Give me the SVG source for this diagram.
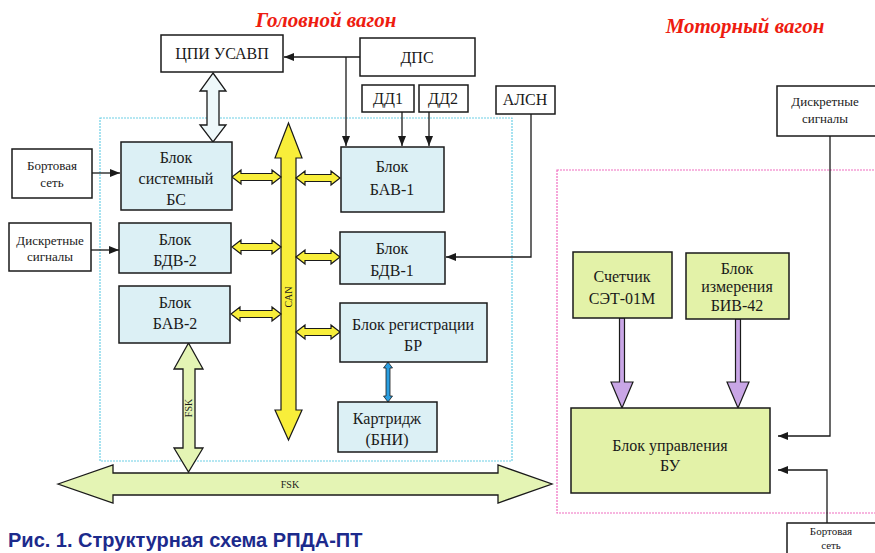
<svg xmlns="http://www.w3.org/2000/svg" width="875" height="553" viewBox="0 0 875 553">
<style>
text{font-family:"Liberation Serif","DejaVu Serif","Times New Roman",serif;fill:#1a1a1a;text-anchor:middle}
.t{font-size:16px}
.s{font-size:13px}
.xs{font-size:11px}
.title{font-size:21px;font-weight:bold;font-style:italic;fill:#ee1c10}
.cap{font-family:"Liberation Sans","DejaVu Sans",Arial,sans-serif;font-size:20px;font-weight:bold;fill:#1c2a8c;text-anchor:start}
.box{fill:#ffffff;stroke:#1a1a1a;stroke-width:1.5}
.blue{fill:#dcf0f5;stroke:#1a1a1a;stroke-width:1.5}
.green{fill:#e3f2a8;stroke:#1a1a1a;stroke-width:1.5}
.yel{fill:#f8ee3a;stroke:#1a1a1a;stroke-width:1.2}
.fsk{fill:#e4f4b4;stroke:#1a1a1a;stroke-width:1.3}
.lbl{font-size:10px}
.conn{fill:none;stroke:#1a1a1a;stroke-width:1.3;marker-end:url(#ah)}
</style>
<defs>
<marker id="ah" markerWidth="10" markerHeight="8" refX="10" refY="4" orient="auto" markerUnits="userSpaceOnUse">
<path d="M0,0 L10,4 L0,8 Z" fill="#1a1a1a"/>
</marker>
</defs>
<rect width="875" height="553" fill="#ffffff"/>

<g id="frames">
<rect x="100" y="118" width="412" height="343" fill="none" stroke="#6ccfe6" stroke-width="1.2" stroke-dasharray="2,1"/>
<rect x="557" y="170" width="330" height="343" fill="none" stroke="#f06cc0" stroke-width="1.2" stroke-dasharray="2,1"/>
</g>

<text class="title" x="326" y="27">Головной вагон</text>
<text class="title" x="745" y="33">Моторный вагон</text>

<g id="connectors">
<path class="conn" d="M360,57 L284,57"/>
<path class="conn" d="M346,57 L346,146"/>
<path class="conn" d="M402,112 L402,146"/>
<path class="conn" d="M429,112 L429,146"/>
<path class="conn" d="M531,114 L531,257 L446,257"/>
<path class="conn" d="M92,173 L120,173"/>
<path class="conn" d="M91,250 L119,250"/>
<path class="conn" d="M830,136 L830,436 L778,436"/>
<path class="conn" d="M827,523 L827,470 L778,470"/>
<path d="M213,73 L226,91 L219,91 L219,125 L226,125 L213,142 L200,125 L207,125 L207,91 L200,91 Z" fill="#eef8fa" stroke="#1a1a1a" stroke-width="1.3"/>
<path class="yel" d="M288.5,123 L302,158 L296,158 L296,410 L302,410 L288.5,440 L275,410 L281,410 L281,158 L275,158 Z"/>
<text class="lbl" transform="translate(292,297) rotate(-90)">CAN</text>
<path class="yel" d="M232,177 L241,170 L241,173.5 L272,173.5 L272,170 L281,177 L272,184 L272,180.5 L241,180.5 L241,184 Z"/>
<path class="yel" d="M296,178 L305,171 L305,174.5 L331,174.5 L331,171 L340,178 L331,185 L331,181.5 L305,181.5 L305,185 Z"/>
<path class="yel" d="M232,247 L241,240 L241,243.5 L272,243.5 L272,240 L281,247 L272,254 L272,250.5 L241,250.5 L241,254 Z"/>
<path class="yel" d="M296,257 L305,250 L305,253.5 L331,253.5 L331,250 L340,257 L331,264 L331,260.5 L305,260.5 L305,264 Z"/>
<path class="yel" d="M231,314 L240,307 L240,310.5 L272,310.5 L272,307 L281,314 L272,321 L272,317.5 L240,317.5 L240,321 Z"/>
<path class="yel" d="M296,332 L305,325 L305,328.5 L331,328.5 L331,325 L340,332 L331,339 L331,335.5 L305,335.5 L305,339 Z"/>
<path d="M388,362 L392.5,368 L390,368 L390,396 L392.5,396 L388,402 L383.5,396 L386,396 L386,368 L383.5,368 Z" fill="#2a9ee0" stroke="#1a1a1a" stroke-width="0.8"/>
<path class="fsk" d="M58,484 L113,465 L113,473 L498,473 L498,465 L552,484 L498,503 L498,495 L113,495 L113,503 Z"/>
<text class="lbl" x="290" y="488">FSK</text>
<path class="fsk" d="M188.5,343 L203,369 L195,369 L195,448 L203,448 L188.5,472 L174,448 L183,448 L183,369 L174,369 Z"/>
<text class="lbl" transform="translate(192,408) rotate(-90)">FSK</text>
<path d="M619.5,318 L624.5,318 L624.5,382 L633,382 L622,408 L611,382 L619.5,382 Z" fill="#c9a6e6" stroke="#1a1a1a" stroke-width="1.2"/>
<path d="M735.5,319 L740.5,319 L740.5,382 L749,382 L738,408 L727,382 L735.5,382 Z" fill="#c9a6e6" stroke="#1a1a1a" stroke-width="1.2"/>
</g>

<g id="cpi"><rect class="box" x="161" y="35" width="122" height="37"/><text class="t" x="222" y="59">ЦПИ УСАВП</text></g>
<g id="dps"><rect class="box" x="360" y="38" width="115" height="38"/><text class="t" x="417" y="63">ДПС</text></g>
<g id="dd1"><rect class="box" x="362" y="85" width="52" height="27"/><text class="t" x="388" y="104">ДД1</text></g>
<g id="dd2"><rect class="box" x="419" y="85" width="49" height="27"/><text class="t" x="443" y="104">ДД2</text></g>
<g id="alsn"><rect class="box" x="496" y="86" width="59" height="28"/><text class="t" x="525" y="105">АЛСН</text></g>
<g id="bort1"><rect class="box" x="12" y="149" width="80" height="49"/><text class="s" x="52" y="170">Бортовая</text><text class="s" x="52" y="187">сеть</text></g>
<g id="disc1"><rect class="box" x="9" y="223" width="82" height="48"/><text class="s" x="50" y="245">Дискретные</text><text class="s" x="50" y="261">сигналы</text></g>
<g id="bs"><rect class="blue" x="121" y="142" width="111" height="68"/><text class="t" x="176" y="163">Блок</text><text class="t" x="176" y="184">системный</text><text class="t" x="176" y="205">БС</text></g>
<g id="bdv2"><rect class="blue" x="119" y="223" width="112" height="50"/><text class="t" x="175" y="245">Блок</text><text class="t" x="175" y="266">БДВ-2</text></g>
<g id="bav2"><rect class="blue" x="119" y="286" width="111" height="57"/><text class="t" x="175" y="308">Блок</text><text class="t" x="175" y="329">БАВ-2</text></g>
<g id="bav1"><rect class="blue" x="341" y="147" width="103" height="65"/><text class="t" x="392" y="172">Блок</text><text class="t" x="392" y="195">БАВ-1</text></g>
<g id="bdv1"><rect class="blue" x="340" y="232" width="105" height="52"/><text class="t" x="392" y="254">Блок</text><text class="t" x="392" y="276">БДВ-1</text></g>
<g id="br"><rect class="blue" x="340" y="303" width="147" height="59"/><text class="t" x="413" y="330">Блок регистрации</text><text class="t" x="413" y="351">БР</text></g>
<g id="cart"><rect class="blue" x="338" y="402" width="99" height="50"/><text class="t" x="387" y="424">Картридж</text><text class="t" x="387" y="445">(БНИ)</text></g>
<g id="disc2"><rect class="box" x="777" y="86" width="110" height="50"/><text class="s" x="825" y="106">Дискретные</text><text class="s" x="825" y="123">сигналы</text></g>
<g id="set"><rect class="green" x="573" y="252" width="99" height="66"/><text class="t" x="622" y="282">Счетчик</text><text class="t" x="622" y="304">СЭТ-01М</text></g>
<g id="biv"><rect class="green" x="686" y="253" width="103" height="66"/><text class="t" x="737" y="274">Блок</text><text class="t" x="737" y="292">измерения</text><text class="t" x="737" y="311">БИВ-42</text></g>
<g id="bu"><rect class="green" x="571" y="408" width="199" height="85"/><text class="t" x="670" y="451">Блок управления</text><text class="t" x="670" y="471">БУ</text></g>
<g id="bort2"><rect class="box" x="787" y="523" width="100" height="40"/><text class="xs" x="831" y="535">Бортовая</text><text class="xs" x="831" y="549">сеть</text></g>

<text class="cap" x="8" y="547">Рис. 1. Структурная схема РПДА-ПТ</text>
</svg>
